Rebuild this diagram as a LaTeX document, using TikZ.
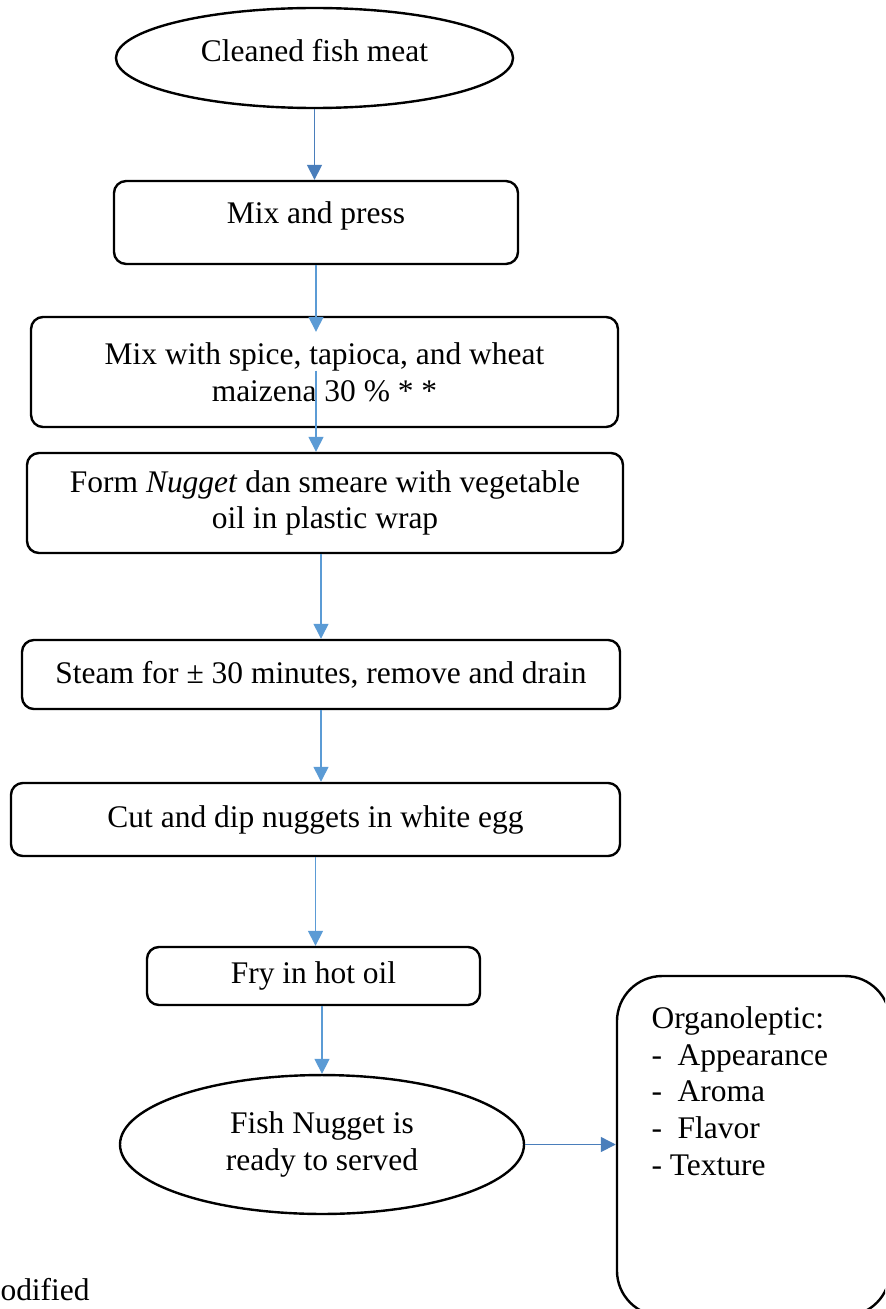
\documentclass[tikz,border=0pt]{standalone}
\usepackage{fontspec}
\setmainfont{Liberation Serif}
\usetikzlibrary{positioning, arrows.meta, calc, shapes.geometric}
\definecolor{flowblue}{HTML}{5B9BD5}
\definecolor{flowdark}{HTML}{4A7EBB}

\begin{document}
\begin{tikzpicture}[x=0.375pt, y=-0.375pt,
    every node/.style={font=\fontsize{11.8}{13.8}\selectfont},
    stepbox/.style={draw=black, line width=0.9pt, rounded corners=4.5pt, align=center, inner sep=0pt},
    endpoint/.style={draw=black, line width=0.9pt, ellipse, align=center, inner sep=0pt},
    flow/.style={-{Triangle[width=5.6pt, length=5.6pt]}, flowblue, line width=0.55pt},
    flowd/.style={flow, flowdark}]
  \useasboundingbox (0,0) rectangle (885,1309);
  \clip (0,0) rectangle (885,1309);

  % process steps
  \node[endpoint, minimum width=148.9pt, minimum height=37.5pt, text depth=6pt] (meat) at (314.5,58) {Cleaned fish meat};
  \node[stepbox, minimum width=151.5pt, minimum height=31.1pt, text depth=7.8pt] (press) at (316,222.5) {Mix and press};
  \node[stepbox, minimum width=220.1pt, minimum height=41.25pt] (spice) at (324.5,372) {Mix with spice, tapioca, and wheat\\maizena 30 \% * *};
  \node[stepbox, minimum width=223.5pt, minimum height=37.5pt] (form) at (325,503) {Form \textit{Nugget} dan smeare with vegetable\\oil in plastic wrap};
  \node[stepbox, minimum width=224.25pt, minimum height=25.9pt] (steam) at (321,674.5) {Steam for ± 30 minutes, remove and drain};
  \node[stepbox, minimum width=228.4pt, minimum height=27.4pt] (cut) at (315.5,819.5) {Cut and dip nuggets in white egg};
  \node[stepbox, minimum width=124.9pt, minimum height=21.75pt] (fry) at (313.5,976) {Fry in hot oil};
  \node[endpoint, minimum width=151.5pt, minimum height=52.1pt] (ready) at (322,1144.5) {Fish Nugget is\\ready to served};

  % test box
  \node[draw=black, line width=0.9pt, rounded corners=17pt, minimum width=102.4pt, minimum height=127.5pt, inner sep=0pt] (organo) at (753.5,1146) {};
  \node[anchor=north west, align=left, inner sep=0pt] (tests) at (651,1006) {Organoleptic:\\-\ \ Appearance\\-\ \ Aroma\\-\ \ Flavor\\- Texture};

  \node[anchor=west, inner sep=0pt] (note) at (0,1290) {odified};

  % arrows
  \draw[flowd] (meat.south) -- (meat.south |- press.north);
  \draw[flow] (press.south) -- ([yshift=-6pt]press.south |- spice.north);
  \draw[flow] ([yshift=-20.6pt]press.south |- spice.north) -- (press.south |- form.north);
  \draw[flow] (steam.north |- form.south) -- (steam.north);
  \draw[flow] (steam.south) -- (steam.south |- cut.north);
  \draw[flow] (cut.south) -- (cut.south |- fry.north);
  \draw[flow] (ready.north |- fry.south) -- (ready.north);
  \draw[flowd] (ready.east) -- (organo.west |- ready.east);
\end{tikzpicture}
\end{document}
